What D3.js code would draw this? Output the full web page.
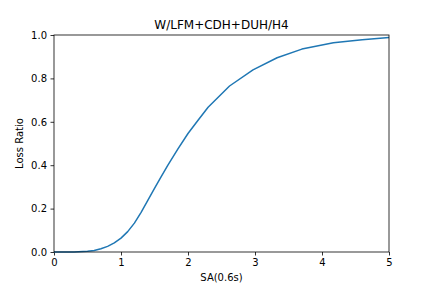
<!DOCTYPE html>
<html><head><meta charset="utf-8">
<script src="https://cdn.jsdelivr.net/npm/d3@7"></script>
<style>
body{margin:0;background:#fff;}
svg{display:block;font-family:"DejaVu Sans",sans-serif;}
</style></head>
<body><svg id="c" width="432" height="288"></svg>
<script>
const sa = [0, 0.3, 0.5, 0.6, 0.7, 0.8, 0.9, 1.0, 1.1, 1.2, 1.3, 1.4, 1.5, 1.6, 1.7, 1.85, 2.0, 2.15, 2.3, 2.62, 2.97, 3.33, 3.7, 4.17, 4.6, 5.0];
const lossRatio = [0, 0, 0.003, 0.007, 0.015, 0.026, 0.042, 0.064, 0.094, 0.133, 0.183, 0.238, 0.293, 0.347, 0.4, 0.475, 0.546, 0.607, 0.667, 0.765, 0.839, 0.895, 0.935, 0.964, 0.978, 0.988];
const xTicks = [0, 1, 2, 3, 4, 5];
const yTicks = [0, 0.2, 0.4, 0.6, 0.8, 1.0];
const title = "W/LFM+CDH+DUH/H4";
const xLabel = "SA(0.6s)";
const yLabel = "Loss Ratio";

const svg = d3.select("#c");
const L = 54, R = 389, T = 35, B = 252;
const x = d3.scaleLinear().domain([0, 5]).range([L, R]);
const y = d3.scaleLinear().domain([0, 1]).range([B, T]);

const xa = svg.append("g").attr("transform", `translate(0,${B})`)
  .call(d3.axisBottom(x).tickValues(xTicks).tickFormat(d3.format("d")).tickSize(3.5).tickPadding(3.5));
const ya = svg.append("g").attr("transform", `translate(${L},0)`)
  .call(d3.axisLeft(y).tickValues(yTicks).tickFormat(d3.format(".1f")).tickSize(3.5).tickPadding(3.5));
[xa, ya].forEach(a => {
  a.select(".domain").remove();
  a.selectAll("line").attr("stroke", "#000").attr("stroke-width", 0.8);
  a.selectAll("text").attr("font-size", 10).attr("fill", "#000").attr("font-family", "DejaVu Sans");
});

svg.append("path")
  .datum(sa.map((d, i) => [d, lossRatio[i]]))
  .attr("fill", "none").attr("stroke", "#1f77b4").attr("stroke-width", 1.5)
  .attr("stroke-linejoin", "round")
  .attr("d", d3.line().x(d => x(d[0])).y(d => y(d[1])));

svg.append("rect").attr("x", L).attr("y", T).attr("width", R - L).attr("height", B - T)
  .attr("fill", "none").attr("stroke", "#000").attr("stroke-width", 0.8);

svg.append("text").attr("x", (L + R) / 2).attr("y", T - 6).attr("text-anchor", "middle")
  .attr("font-size", 12).text(title);
svg.append("text").attr("x", (L + R) / 2).attr("y", 281).attr("text-anchor", "middle")
  .attr("font-size", 10).text(xLabel);
svg.append("text").attr("transform", `translate(23,${(T + B) / 2}) rotate(-90)`).attr("text-anchor", "middle")
  .attr("font-size", 10).text(yLabel);
</script></body></html>
